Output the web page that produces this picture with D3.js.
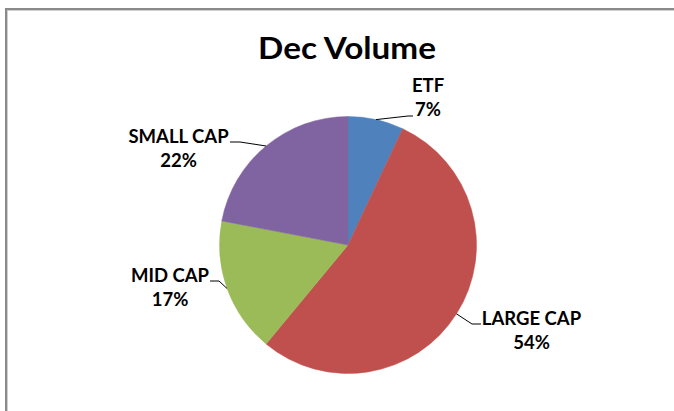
<!DOCTYPE html>
<html>
<head>
<meta charset="utf-8">
<script src="https://cdn.jsdelivr.net/npm/d3@7"></script>
<style>
  html, body { margin: 0; padding: 0; background: #fff; }
  svg { display: block; }
  text { font-family: Lato, "Open Sans", sans-serif; font-weight: bold; fill: #000; }
</style>
</head>
<body>
<svg id="chart" width="674" height="411"></svg>
<script>
const title = "Dec Volume";
const categories = ["ETF", "LARGE CAP", "MID CAP", "SMALL CAP"];
const values = [7, 54, 17, 22];
const colors = ["#4F81BD", "#C0504D", "#9BBB59", "#8064A2"];

// layout constants (label placement, px)
const labelLayout = [
  { cx: 428, y: 92, elbow: [408, 116], end: [413, 116] },
  { cx: 531.5, y: 325, elbow: [472, 324], end: [481, 324] },
  { cx: 170, y: 282, elbow: [219, 281], end: [210, 281] },
  { cx: 178.5, y: 143, elbow: [240, 142], end: [230, 142] }
];

const W = 674, H = 411;
const cx = 348, cy = 245, R = 128.5;
const svg = d3.select("#chart");

svg.append("rect").attr("width", W).attr("height", H).attr("fill", "#fff");
// chart area border
svg.append("rect").attr("x", 6).attr("y", 9).attr("width", W + 20).attr("height", H + 20)
  .attr("fill", "none").attr("stroke", "#8a8a8a").attr("stroke-width", 2);
svg.append("rect").attr("x", 7.5).attr("y", 10.5).attr("width", W + 20).attr("height", H + 20)
  .attr("fill", "none").attr("stroke", "#d0d0d0").attr("stroke-width", 1);

const total = d3.sum(values);
const data = categories.map((c, i) => ({ name: c, value: values[i], color: colors[i], lay: labelLayout[i] }));

const pie = d3.pie().value(d => d.value).sort(null);
const arc = d3.arc().innerRadius(0).outerRadius(R);
const arcs = pie(data);

const g = svg.append("g").attr("transform", `translate(${cx},${cy})`);
g.selectAll("path").data(arcs).join("path")
  .attr("d", arc)
  .attr("fill", d => d.data.color)
  .attr("stroke", d => d.data.color)
  .attr("stroke-width", 0.5);

// leader lines
const edgeArc = d3.arc().innerRadius(R).outerRadius(R);
svg.selectAll("polyline.leader").data(arcs).join("polyline")
  .attr("class", "leader")
  .attr("points", d => {
    const [x, y] = edgeArc.centroid(d);
    const p0 = [cx + x, cy + y];
    return [p0, d.data.lay.elbow, d.data.lay.end].map(p => p.join(",")).join(" ");
  })
  .attr("fill", "none").attr("stroke", "#000").attr("stroke-width", 1);

// labels
const fmt = v => Math.round(v / total * 100) + "%";
const lbl = svg.selectAll("text.lbl").data(arcs).join("text")
  .attr("class", "lbl")
  .attr("text-anchor", "middle")
  .style("font-size", "18.5px");
lbl.append("tspan").attr("x", d => d.data.lay.cx).attr("y", d => d.data.lay.y).text(d => d.data.name);
lbl.append("tspan").attr("x", d => d.data.lay.cx).attr("y", d => d.data.lay.y + 24).text(d => fmt(d.data.value));

// title (stretched horizontally to the reference width)
const tX = 347, tW = 178;
const t = svg.append("text").attr("x", 0).attr("y", 0).attr("text-anchor", "middle")
  .style("font-size", "30px").text(title);
const sx = tW / t.node().getComputedTextLength();
t.attr("transform", `translate(${tX},59) scale(${sx},1)`);
</script>
</body>
</html>
